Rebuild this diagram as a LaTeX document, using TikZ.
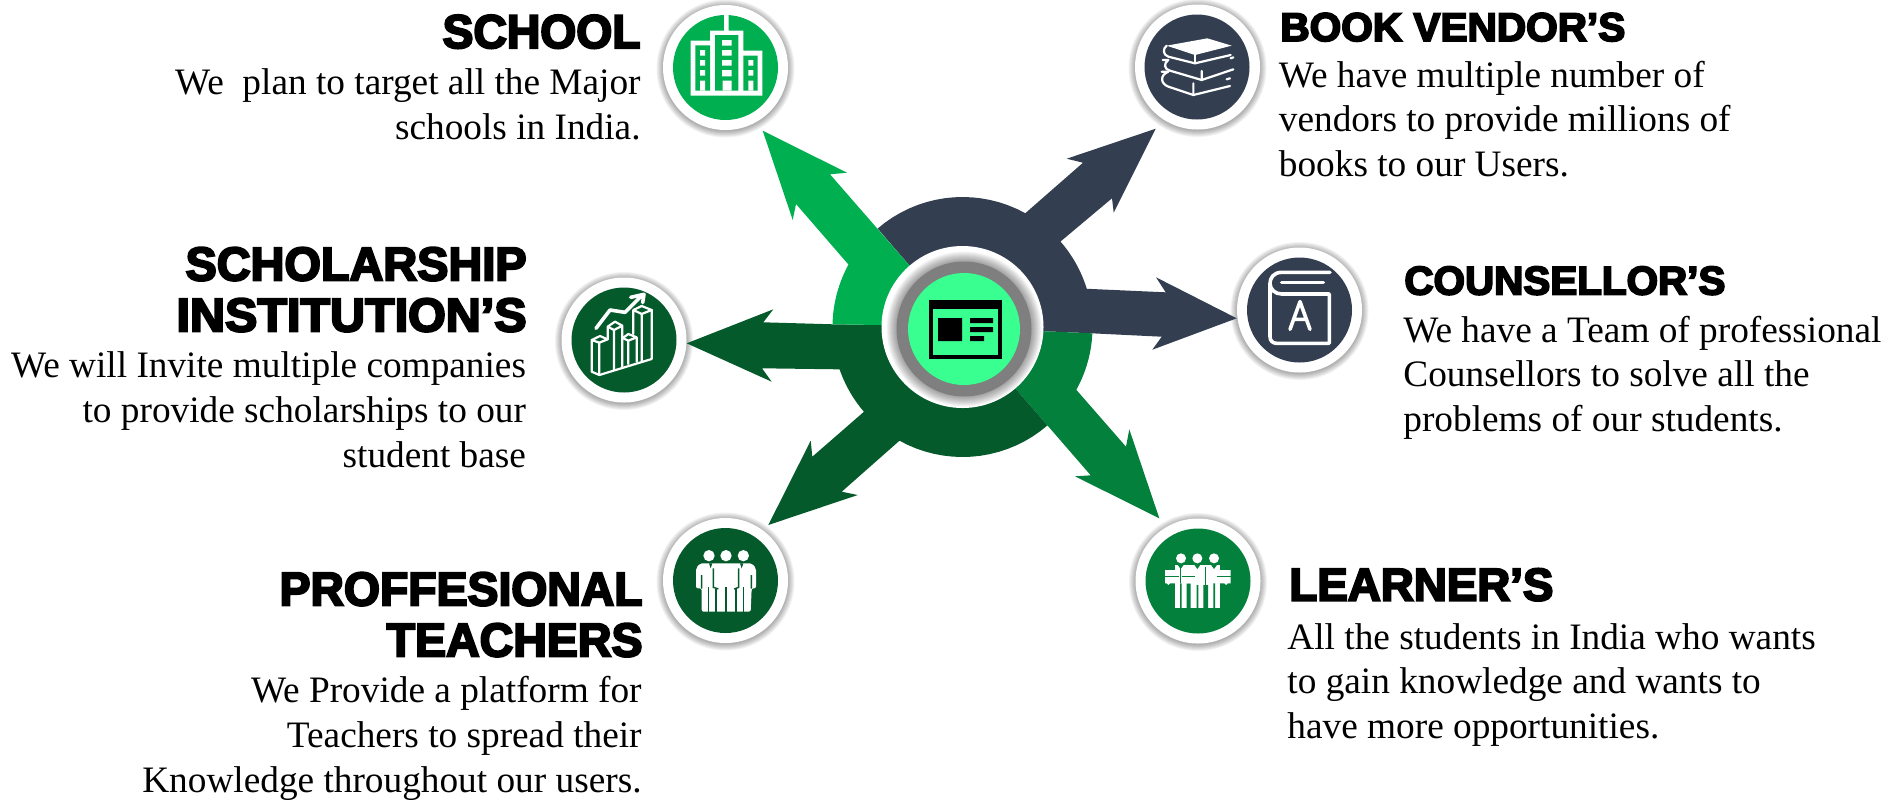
\documentclass[tikz,border=0pt]{standalone}
\usepackage{fontspec}
\setmainfont{Liberation Serif}
\newfontfamily\headfont[FakeBold=4.5]{Liberation Sans Bold}
\definecolor{navy}{HTML}{333F50}
\definecolor{gA}{HTML}{00B050}
\definecolor{gB}{HTML}{02803C}
\definecolor{gC}{HTML}{045A2A}
\definecolor{mint}{HTML}{38FF90}
\definecolor{ringgray}{HTML}{7F7F7F}
\newcommand{\softglow}[4]{\foreach \rr in {#3}{\fill[black,opacity=#4] (#1,#2) circle[radius=\rr];}}
\newcommand{\hdline}[3]{\resizebox{#1pt}{#2pt}{#3}}
\tikzset{
  whitedisc/.style={circle,inner sep=0,minimum size=62.5pt,fill=white},
  disc/.style={circle,inner sep=0,minimum size=52.5pt,fill=#1},
  icon/.style={draw=white,line width=1.8pt,line join=round,line cap=round},
  thinicon/.style={draw=white,line width=1.1pt,line join=round,line cap=round},
  heading/.style={inner sep=0,font=\headfont\fontsize{21.5}{25.5}\selectfont,text=black},
  bodytext/.style={inner sep=0,font=\fontsize{18.65}{22.4}\selectfont,text=black},
  rarc/.style={domain=#1,samples=18},
}
\begin{document}
\begin{tikzpicture}[x=0.5pt,y=-0.5pt]
\useasboundingbox (0,0) rectangle (1893,799);
% soft shadows of the small discs
\softglow{725.5}{68.5}{69,68,67,66,65,64,63}{.05}
\softglow{1197.5}{68}{69,68,67,66,65,64,63}{.05}
\softglow{1299.5}{311}{69,68,67,66,65,64,63}{.05}
\softglow{624}{341}{69,68,67,66,65,64,63}{.05}
\softglow{725.5}{581.5}{69,68,67,66,65,64,63}{.05}
\softglow{1198}{582}{69,68,67,66,65,64,63}{.05}
\coordinate (hubc) at (962.5,327);
% arrows
\fill[navy] (hubc) -- (878.3,229.3) -- plot[rarc=229.2:298.9] ({962.5+130*cos(\x)},{327+130*sin(\x)}) -- (1083,162.7) -- (1066.7,158.7) -- (1155.7,128.7) -- (1113.7,212.7) -- (1112,198.3) -- (1062.3,240) -- plot[rarc=318.9:342.9] ({962.5+130*cos(\x)},{327+130*sin(\x)}) -- (1165.7,292.3) -- (1156,277.3) -- (1236.7,318.3) -- (1152.3,349.7) -- (1161.7,336.7) -- (1091.7,333.3) -- (1045.7,331.3) -- cycle;
\fill[gB] (hubc) -- (1045.7,331.3) -- (1091.7,333.3) -- plot[rarc=2.8:28.9] ({962.5+130*cos(\x)},{327+130*sin(\x)}) -- (1126,446.7) -- (1129.3,429.3) -- (1159.3,518.3) -- (1075,476.3) -- (1090.7,475.3) -- (1047.7,425.7) -- (1016.7,390) -- cycle;
\fill[gC] (hubc) -- (1016.7,390) -- (1047.7,425.7) -- plot[rarc=49.2:119] ({962.5+130*cos(\x)},{327+130*sin(\x)}) -- (841.7,491.7) -- (857.7,495) -- (768.3,525) -- (810.7,440.7) -- (812.3,456.7) -- (863.3,412.3) -- plot[rarc=139.3:161] ({962.5+130*cos(\x)},{327+130*sin(\x)}) -- (762,368.3) -- (771.7,381.7) -- (686.7,343.3) -- (773.3,309.3) -- (763.3,322.3) -- (833.3,324.3) -- (881.7,325) -- cycle;
\fill[gA] (hubc) -- (881.7,325) -- (833.3,324.3) -- plot[rarc=181.2:208.7] ({962.5+130*cos(\x)},{327+130*sin(\x)}) -- (796,204) -- (792.7,220) -- (762.7,130.7) -- (847,172.7) -- (830,174.3) -- (909,265) -- cycle;
% hub
\node[circle,inner sep=0,minimum size=81pt,fill=white] (hubglow) at (962.5,327) {};
\softglow{964}{329}{77.5,76.5,75.5,74.5,73.5,72.5,71.5,70.5,69.5,68.5}{.04}
\node[circle,inner sep=0,minimum size=67.5pt,fill=ringgray] (hubring) at (964,329) {};
\node[circle,inner sep=0,minimum size=56pt,fill=mint] (hub) at (964,329) {};
\begin{scope}[shift={(700,200)},scale=1/3]
\fill[black] (687,300) rectangle (907,478);
\fill[mint] (700,327) rectangle (893,464);
\fill[black] (714,354) rectangle (786,423) (810,354) rectangle (879,369) (810,381) rectangle (879,396) (810,408) rectangle (852,423);
\end{scope}
% discs
\node[whitedisc] at (725.5,67.5) {}; \node[disc=gA] (school) at (725.5,67.5) {};
\node[whitedisc] at (1197.5,67) {}; \node[disc=navy] (vendor) at (1197,67) {};
\node[whitedisc] at (1299.5,310) {}; \node[disc=navy] (counsellor) at (1299.5,310) {};
\node[whitedisc] at (624,340) {}; \node[disc=gC] (scholar) at (624,340) {};
\node[whitedisc] at (725.5,580.5) {}; \node[disc=gC] (teachers) at (725.5,580.5) {};
\node[whitedisc] at (1198,581) {}; \node[disc=gB] (learner) at (1198,581) {};
% school icon
\begin{scope}[shift={(650,0)},scale=1/3]
\fill[white] (222,45) -- (236,45) -- (236,92) -- (280,92) -- (280,152) -- (337,152) -- (337,287) -- (122,287) -- (122,122) -- (180,122) -- (180,92) -- (222,92) -- cycle;
\fill[gA] (195,105) rectangle (265,272) (136,136) rectangle (180,272) (280,167) rectangle (323,272);
\fill[white] (216,120) rectangle (245,137) (216,150) rectangle (245,167) (216,180) rectangle (245,197) (216,210) rectangle (245,229) (218,242) rectangle (245,272);
\fill[white] (150,150) rectangle (165,167) (150,180) rectangle (165,197) (150,210) rectangle (165,227) (150,242) rectangle (165,272);
\fill[white] (295,180) rectangle (310,197) (295,210) rectangle (310,227) (295,242) rectangle (310,272);
\end{scope}
% books icon
\begin{scope}[shift={(1120,0)},scale=1/3]
\fill[white] (140,137) -- (262,115) -- (335,137) -- (225,165) -- cycle;
\draw[thinicon] (140,137) .. controls (128,145) and (128,165) .. (145,170) -- (225,190) -- (332,165);
\draw[thinicon] (225,165) -- (225,190);
\draw[thinicon] (128,180) -- (145,180) .. controls (130,190) and (132,208) .. (150,212) -- (245,240) -- (340,208);
\draw[thinicon] (245,213) -- (245,240) (332,175) -- (340,172);
\draw[thinicon] (125,215) -- (145,215) .. controls (120,225) and (120,250) .. (145,260) -- (220,285) -- (330,258);
\draw[thinicon] (220,250) -- (220,285) (330,235) -- (320,238);
\end{scope}
% book A icon
\begin{scope}[shift={(1220,230)},scale=1/3]
\draw[icon] (330,127) -- (185,127) .. controls (160,127) and (150,145) .. (150,160) -- (150,320) .. controls (150,332) and (158,340) .. (170,340) -- (328,340) -- (328,192) -- (185,192) .. controls (165,192) and (150,178) .. (150,160);
\draw[icon] (185,158) -- (310,158);
\draw[icon] (210,298) -- (240,215) -- (270,298) (222,268) -- (258,268);
\end{scope}
% chart icon
\begin{scope}[shift={(540,260)},scale=1/3]
\draw[thinicon] (155,240) -- (155,335) -- (178,345) -- (178,248) -- cycle (155,240) -- (180,228) -- (203,238) -- (178,248);
\draw[thinicon] (178,345) -- (335,297) -- (335,150);
\draw[thinicon] (203,200) -- (203,238) (203,200) -- (225,185) -- (247,197) -- (222,210) -- cycle (222,210) -- (222,330) (247,197) -- (247,320);
\draw[thinicon] (247,235) -- (265,222) -- (290,232) -- (265,242) -- (250,235) (265,242) -- (265,312) (290,232) -- (290,305);
\draw[thinicon] (280,150) -- (305,162) -- (305,302) (280,150) -- (305,138) -- (335,150) -- (305,162) (280,150) -- (280,222);
\draw[icon] (168,205) -- (210,150) -- (255,157) -- (300,112) (272,112) -- (312,103) -- (308,128);
\end{scope}
% teachers icon
\begin{scope}[shift={(650,500)},scale=1/3]
\fill[white] (177,167) circle[radius=17] (228,167) circle[radius=17] (280,167) circle[radius=17];
\fill[white,rounded corners=1pt] (138,265) -- (138,205) -- (150,190) -- (306,190) -- (318,205) -- (318,265) -- (305,265) -- (302,335) -- (155,335) -- (155,265) -- cycle;
\draw[gC,line width=0.7pt] (176,262) -- (176,338) (198,268) -- (198,338) (228,262) -- (228,338) (258,268) -- (258,338) (281,262) -- (281,338);
\draw[gC,line width=0.7pt] (190,205) -- (190,262) -- (205,267) (266,205) -- (266,262) -- (252,267) (155,225) -- (155,266) (304,225) -- (304,266);
\fill[gC] (177,190) -- (187,190) -- (182,205) -- cycle (270,190) -- (280,190) -- (275,205) -- cycle;
\end{scope}
% learners icon
\begin{scope}[shift={(1120,500)},scale=1/3]
\fill[white] (183,175) circle[radius=15] (232,175) circle[radius=15] (282,175) circle[radius=15];
\fill[white] (165,195) rectangle (300,325);
\fill[gB] (180,250) rectangle (185,327) (200,250) rectangle (212,327) (230,255) rectangle (235,327) (250,255) rectangle (264,327) (280,250) rectangle (285,327);
\fill[gB] (172,193) -- (192,193) -- (182,207) -- cycle (222,193) -- (242,193) -- (232,207) -- cycle (272,193) -- (292,193) -- (282,207) -- cycle;
\fill[white] (135,210) rectangle (178,250) (185,210) rectangle (225,250) (290,210) rectangle (332,250);
\fill[white] (145,250) circle[radius=5] (318,250) circle[radius=5];
\draw[gB,line width=0.5pt] (135,228) -- (178,228) (185,228) -- (225,228) (290,228) -- (332,228) (181,205) -- (181,250) (255,200) -- (255,262);
\end{scope}
% texts
\node[heading,anchor=base east] (t1) at (641,48) {\hdline{99}{16.5}{SCHOOL}};
\node[bodytext,align=right,anchor=north east] (b1) at (641,62.8) {\strut We\ \ plan to target all the Major\\schools in India.};
\node[heading,align=right,anchor=north east] (t2) at (527,244.3) {\strut\hdline{170.5}{16.5}{SCHOLARSHIP}\\\hdline{175}{16.5}{INSTITUTION’S}};
\node[bodytext,align=right,anchor=north east] (b2) at (526.4,345.9) {\strut We will Invite multiple companies\\to provide scholarships to our\\student base};
\node[heading,align=right,anchor=north east] (t3) at (643,569.3) {\strut\hdline{181.5}{16.5}{PROFFESIONAL}\\\hdline{128}{16.5}{TEACHERS}};
\node[bodytext,align=right,anchor=north east] (b3) at (642,671) {\strut We Provide a platform for\\Teachers to spread their\\Knowledge throughout our users.};
\node[heading,anchor=base west] (t4) at (1280,41) {\hdline{172.5}{14}{BOOK VENDOR’S}};
\node[bodytext,align=left,anchor=north west] (b4) at (1278.5,55.4) {\strut We have multiple number of\\vendors to provide millions of\\books to our Users.};
\node[heading,anchor=base west] (t5) at (1404,294.5) {\hdline{160.5}{14}{COUNSELLOR’S}};
\node[bodytext,align=left,anchor=north west] (b5) at (1403,310.4) {\strut We have a Team of professional\\Counsellors to solve all the\\problems of our students.};
\node[heading,anchor=base west] (t6) at (1289,600.5) {\hdline{132}{16}{LEARNER’S}};
\node[bodytext,align=left,anchor=north west] (b6) at (1287,617.4) {\strut All the students in India who wants\\to gain knowledge and wants to\\have more opportunities.};
\end{tikzpicture}
\end{document}
